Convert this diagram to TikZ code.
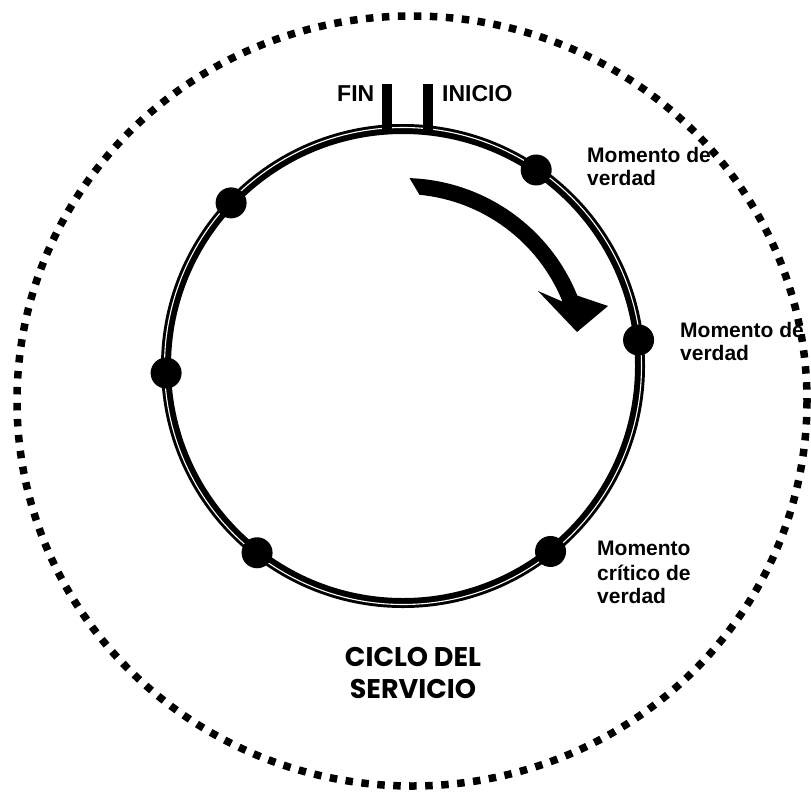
\documentclass[tikz,border=0pt]{standalone}
\usepackage{fontspec}
\setmainfont{Liberation Sans}
\newfontfamily\geofont{Poppins}
\usetikzlibrary{calc}
\begin{document}
\begin{tikzpicture}[x=1pt,y=-1pt,
  lbl/.style={font=\fontsize{21}{23}\selectfont\bfseries, anchor=base west, inner sep=0pt},
  toplbl/.style={font=\fontsize{23}{25}\selectfont\bfseries, anchor=base west, inner sep=0pt},
  titlelbl/.style={font=\geofont\fontsize{27}{30}\selectfont\bfseries, anchor=base, inner sep=0pt},
  dot/.style={circle, fill=black, minimum size=31pt, inner sep=0pt},
  tickbar/.style={rectangle, fill=black, minimum width=10pt, minimum height=46pt, inner sep=0pt},
  outerring/.style={line width=7.5pt, dash pattern=on 7.5pt off 8.5pt},
  ring/.style={line width=10pt, draw=black},
  ringgap/.style={line width=1.1pt, draw=white}
]
\useasboundingbox[fill=white] (0,0) rectangle (811,793);
\coordinate (C) at (403,366);

% outer dotted ring
\draw[outerring] (412,401) ellipse [x radius=395, y radius=385];

% inner double ring
\draw[ring] (C) circle [radius=237];
\draw[ringgap] (C) circle [radius=238.5];

% FIN / INICIO ticks
\node[tickbar] (fintick) at (387,107) {};
\node[tickbar] (initick) at (428,107) {};
\node[toplbl] (fin) at (337,101) {FIN};
\node[toplbl] (inicio) at (442,101) {INICIO};

% dots on the cycle
\node[dot] (d1) at ($(C)+(-55.8:237)$) {};
\node[dot] (d2) at ($(C)+(-6.3:237)$) {};
\node[dot] (d3) at ($(C)+(51.5:237)$) {};
\node[dot] (d4) at ($(C)+(128:237)$) {};
\node[dot] (d5) at ($(C)+(178.3:237)$) {};
\node[dot] (d6) at ($(C)+(-136.5:237)$) {};

% labels
\node[lbl] (l1a) at (587,162) {Momento de};
\node[lbl] (l1b) at (587,185) {verdad};
\node[lbl] (l2a) at (680,337) {Momento de};
\node[lbl] (l2b) at (680,360) {verdad};
\node[lbl] (l3a) at (597,555) {Momento};
\node[lbl] (l3b) at (597,580) {crítico de};
\node[lbl] (l3c) at (597,603) {verdad};

% title
\node[titlelbl] (t1) at (413,666) {CICLO DEL};
\node[titlelbl] (t2) at (413,698) {SERVICIO};

% curved arrow
\fill ($(C)+(-88:188)$) arc [start angle=-88, end angle=-22, radius=188]
  -- (608,306) -- (577,332) -- (538,291)
  -- ($(C)+(-22:172)$) arc [start angle=-22, end angle=-84.5, radius=172] -- cycle;
\end{tikzpicture}
\end{document}
